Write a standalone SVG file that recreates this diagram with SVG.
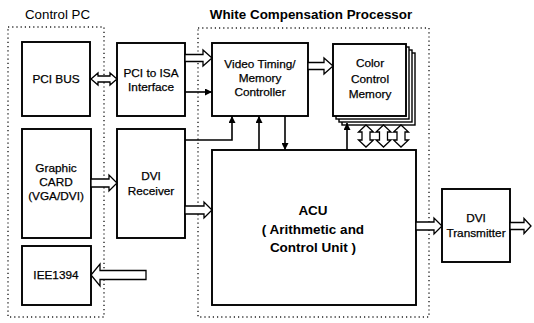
<svg xmlns="http://www.w3.org/2000/svg" width="534" height="323" viewBox="0 0 534 323">
<style>
.bg{fill:#ffffff}
.box{fill:#ffffff;stroke:#000;stroke-width:1.9}
.dot{fill:none;stroke:#222;stroke-width:1.4;stroke-dasharray:1.2 3}
.hol{fill:#ffffff;stroke:#000;stroke-width:1.3;stroke-linejoin:miter}
.ln{fill:none;stroke:#000;stroke-width:1.6}
.t{font-family:"Liberation Sans",Arial,sans-serif;font-size:11.8px;fill:#000;stroke:#000;stroke-width:0.25;text-anchor:middle}
.tb{font-family:"Liberation Sans",Arial,sans-serif;font-weight:bold;fill:#000;text-anchor:middle}
</style>
<defs>
<marker id="ah2" viewBox="0 0 10 10" refX="10" refY="5" markerWidth="7" markerHeight="7" orient="auto" markerUnits="userSpaceOnUse">
<path d="M0,0 L10,5 L0,10 z" fill="#000"/>
</marker>
</defs>
<rect class="bg" x="0" y="0" width="534" height="323"/>

<g id="titles">
<text x="57.5" y="19" style="font-family:'Liberation Sans',Arial,sans-serif;font-size:13.3px;text-anchor:middle">Control PC</text>
<text class="tb" x="311" y="19" style="font-size:13.4px">White Compensation Processor</text>
</g>

<g id="control-pc-group"><rect class="dot" x="8" y="27" width="96" height="290"/></g>
<g id="wcp-group"><rect class="dot" x="198" y="28" width="231" height="289"/></g>

<g id="pci-bus"><rect class="box" x="22" y="42" width="68" height="74"/>
<text class="t" x="56" y="83">PCI BUS</text></g>

<g id="pci-isa"><rect class="box" x="117" y="43" width="68" height="73"/>
<text class="t" x="151" y="77">PCI to ISA</text><text class="t" x="151" y="91">Interface</text></g>

<g id="graphic-card"><rect class="box" x="22" y="129" width="69" height="109"/>
<text class="t" x="56" y="172">Graphic</text><text class="t" x="56" y="186">CARD</text><text class="t" x="56" y="200">(VGA/DVI)</text></g>

<g id="dvi-receiver"><rect class="box" x="117" y="129" width="68" height="109"/>
<text class="t" x="151" y="180">DVI</text><text class="t" x="151" y="195">Receiver</text></g>

<g id="iee1394"><rect class="box" x="22" y="246" width="69" height="59"/>
<text class="t" x="56" y="279">IEE1394</text></g>

<g id="video-timing"><rect class="box" x="212" y="43" width="96" height="73"/>
<text class="t" x="260" y="68">Video Timing/</text><text class="t" x="260" y="82">Memory</text><text class="t" x="260" y="96">Controller</text></g>

<g id="color-control-memory">
<rect class="box" x="342" y="53" width="73" height="72" style="stroke-width:1.4"/>
<rect class="box" x="339" y="50" width="73" height="72" style="stroke-width:1.4"/>
<rect class="box" x="336" y="47" width="73" height="72" style="stroke-width:1.4"/>
<rect class="box" x="333" y="44" width="73" height="72"/>
<text class="t" x="370" y="67">Color</text><text class="t" x="370" y="83">Control</text><text class="t" x="370" y="98">Memory</text></g>

<g id="acu"><rect class="box" x="212" y="150" width="204" height="155"/>
<text class="tb" x="313" y="215" style="font-size:13.5px">ACU</text>
<text class="tb" x="313" y="234" style="font-size:13.5px">( Arithmetic and</text>
<text class="tb" x="313" y="252" style="font-size:13.5px">Control Unit )</text></g>

<g id="dvi-transmitter"><rect class="box" x="442" y="189" width="68" height="73"/>
<text class="t" x="476" y="222">DVI</text><text class="t" x="476" y="237">Transmitter</text></g>

<g id="connectors">
<path class="hol" d="M91,79 L98,73 L98,76 L110,76 L110,73 L117,79 L110,85 L110,82 L98,82 L98,85 Z"/>
<path class="hol" d="M185,54.5 L203,54.5 L203,50 L212,58 L203,66 L203,61.5 L185,61.5 Z"/>
<line class="ln" x1="185" y1="92" x2="212" y2="92" marker-end="url(#ah2)"/>
<path class="hol" d="M308,62.5 L324,62.5 L324,58 L333,66 L324,74 L324,69.5 L308,69.5 Z"/>
<path class="hol" d="M91,179 L109,179 L109,175 L117,183 L109,191 L109,187 L91,187 Z"/>
<path class="hol" d="M185,206 L204,206 L204,202 L212,210 L204,218 L204,214 L185,214 Z"/>
<polyline class="ln" points="185,140 232,140 232,116" marker-end="url(#ah2)"/>
<line class="ln" x1="259" y1="150" x2="259" y2="116" marker-end="url(#ah2)"/>
<line class="ln" x1="285" y1="116" x2="285" y2="150" marker-end="url(#ah2)"/>
<line class="ln" x1="347" y1="150" x2="347" y2="123" marker-end="url(#ah2)"/>
<path class="hol" d="M366,125 L373.5,132 L370,132 L370,140 L373.5,140 L366,147 L358.5,140 L362,140 L362,132 L358.5,132 Z"/>
<path class="hol" d="M383.5,125 L391,132 L387.5,132 L387.5,140 L391,140 L383.5,147 L376,140 L379.5,140 L379.5,132 L376,132 Z"/>
<path class="hol" d="M401,125 L408.5,132 L405,132 L405,140 L408.5,140 L401,147 L393.5,140 L397,140 L397,132 L393.5,132 Z"/>
<path class="hol" d="M416,222 L434,222 L434,218 L442,226 L434,234 L434,230 L416,230 Z"/>
<path class="hol" d="M510,222.5 L524,222.5 L524,218.5 L531,226 L524,233.5 L524,229.5 L510,229.5 Z"/>
<path class="hol" d="M146,270.5 L100,270.5 L100,264 L91,275 L100,286 L100,279.5 L146,279.5 Z"/>
</g>
</svg>
